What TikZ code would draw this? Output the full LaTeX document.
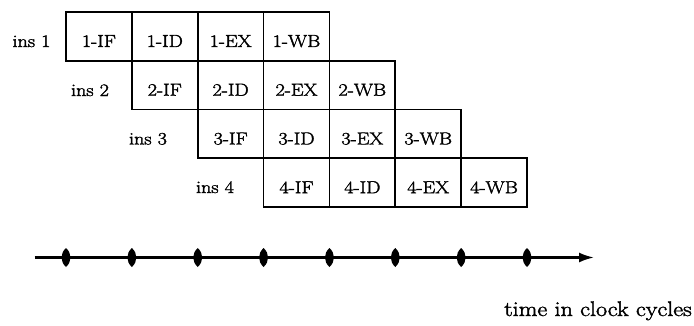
\documentclass[tikz,border=0pt]{standalone}
\usepackage{fontspec}
\newfontfamily\scanfont{Latin Modern Roman}[FakeBold=2, FakeStretch=1.15]
\usetikzlibrary{arrows.meta}
\begin{document}
\begin{tikzpicture}[x=1pt,y=-1pt,
  cell/.style={draw, line width=1.8pt, minimum width=65.86pt, minimum height=48.75pt,
    inner sep=0pt, outer sep=0pt, anchor=north west, text height=21.2pt, text depth=0pt,
    font=\scanfont\fontsize{17.5}{20}\selectfont},
  inslabel/.style={anchor=base, inner sep=0pt, font=\scanfont\fontsize{17.5}{20}\selectfont},
  axisline/.style={line width=2.2pt, -{Latex[length=15pt,width=10pt]}},
  timelabel/.style={anchor=base, inner sep=0pt, font=\scanfont\fontsize{21}{24}\selectfont}]
\useasboundingbox (0,0) rectangle (694,325);
% pipeline cells
\foreach \r in {1,...,4} {
  \foreach \s [count=\c from 0] in {IF,ID,EX,WB} {
    \node[cell] (c\r\s) at ({66+(\r-1+\c)*65.86}, {12+(\r-1)*48.75}) {\r-\s};
  }
}
% instruction labels
\node[inslabel] (i1) at (31.5,47) {ins 1};
\node[inslabel] (i2) at (90,96) {ins 2};
\node[inslabel] (i3) at (148,144.5) {ins 3};
\node[inslabel] (i4) at (215,193) {ins 4};
% time axis
\coordinate (a0) at (34.5,257.5);
\coordinate (a1) at (594,257.5);
\draw[axisline] (a0) -- (a1);
\foreach \i in {0,...,7} {
  \pgfmathsetmacro\tx{66+\i*65.86}
  \fill (\tx,248) .. controls ({\tx+6},253.5) and ({\tx+6},261.5) .. (\tx,267)
        .. controls ({\tx-6},261.5) and ({\tx-6},253.5) .. cycle;
}
\node[timelabel] (t) at (598,316) {time in clock cycles};
\end{tikzpicture}
\end{document}
